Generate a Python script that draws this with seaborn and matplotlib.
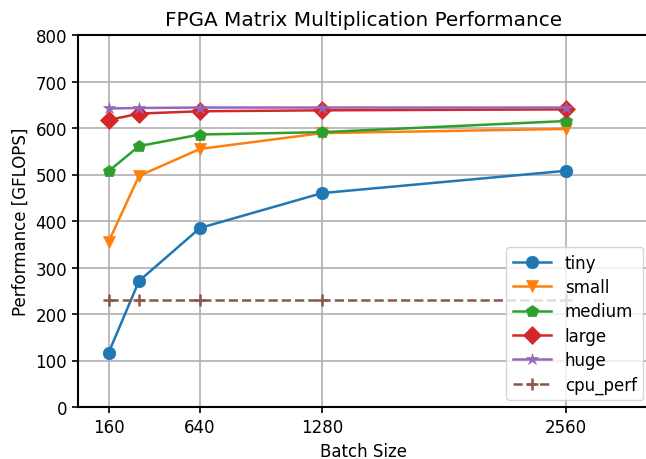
import matplotlib
matplotlib.use("Agg")
import matplotlib.pyplot as plt
import seaborn as sns
import pandas as pd

batch = [160, 320, 640, 1280, 2560]
tiny = [116, 271, 385, 460, 508]
small = [355, 497, 555, 589, 598]
medium = [507, 561, 586, 591, 615]
large = [617, 631, 636, 638, 640]
huge = [642, 643, 644, 644, 644]
cpu_perf = [230, 230, 230, 230, 230]
xticks = [160, 640, 1280, 2560]

series = {"tiny": tiny, "small": small, "medium": medium,
          "large": large, "huge": huge, "cpu_perf": cpu_perf}
rows = []
for name, vals in series.items():
    for b, v in zip(batch, vals):
        rows.append({"Batch Size": b, "Performance": v, "series": name})
df = pd.DataFrame(rows)

plt.rcParams['font.family'] = ['DejaVu Sans']
plt.rcParams['font.size'] = 12
fig = plt.figure(figsize=(6.46, 4.6), dpi=100)
ax = fig.add_axes([78/646, 1 - 408/460, (650-78)/646, (408-36)/460])

palette = ["#1f77b4", "#ff7f0e", "#2ca02c", "#d62728", "#9467bd", "#8c564b"]
markers = ["o", "v", "p", "D", "*", "+"]
names = list(series.keys())
for i, name in enumerate(names):
    sub = df[df["series"] == name]
    sns.lineplot(data=sub, x="Batch Size", y="Performance", ax=ax,
                 color=palette[i], marker=markers[i], markersize=9,
                 linewidth=1.8, label=name,
                 linestyle="--" if name == "cpu_perf" else "-",
                 markeredgewidth=1.8 if name == "cpu_perf" else 0.5,
                 markeredgecolor=palette[i])

ax.set_xlim(0, 3000)
ax.set_ylim(0, 800)
ax.set_xticks(xticks)
ax.set_xticklabels([str(t) for t in xticks])
ax.grid(True, color="#b0b0b0", linewidth=1.2)
ax.set_axisbelow(True)
for s in ax.spines.values():
    s.set_linewidth(1.5)
    s.set_color("black")
ax.tick_params(labelsize=12, width=1.2, length=4.5, colors="black")
ax.set_title("FPGA Matrix Multiplication Performance", fontsize=14.4, pad=7)
ax.set_xlabel("Batch Size", fontsize=12)
ax.set_ylabel("Performance [GFLOPS]", fontsize=12)
ax.legend(loc="lower right", fontsize=12, framealpha=0.8,
          labelspacing=0.38, handlelength=2.3, handletextpad=0.8,
          borderaxespad=0.4)
fig.savefig("out.png", dpi=100)
